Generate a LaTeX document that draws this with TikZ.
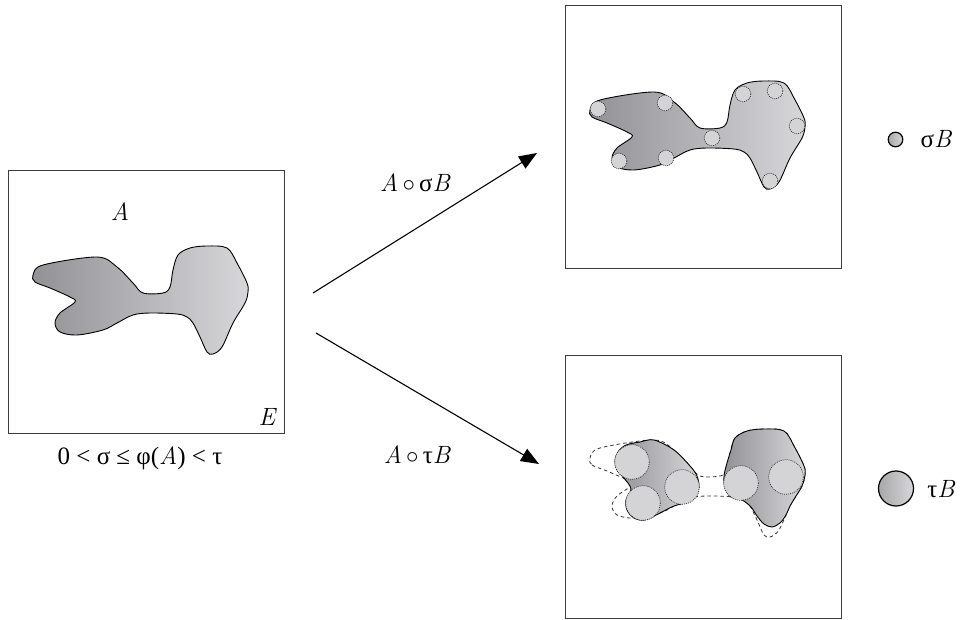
\documentclass[tikz,border=0pt]{standalone}
\usepackage{fontspec}
\setmainfont{Liberation Serif}
\newfontfamily\lmr{Latin Modern Roman}
\newcommand\vA{{\lmr\itshape A}}
\newcommand\vB{{\lmr\itshape B}}
\newcommand\vE{{\lmr\itshape E}}
\usetikzlibrary{arrows.meta}
\definecolor{gdark}{RGB}{146,146,150}
\definecolor{glight}{RGB}{215,215,218}
\definecolor{discfill}{RGB}{212,212,214}
\definecolor{framecol}{RGB}{60,60,60}
\newcommand\shapeApath{plot[smooth cycle,tension=0.55] coordinates {(33,275) (35,282) (50,288) (70,297) (75,302) (60,313) (55,323) (60,332) (77,335) (103,330) (117,323) (133,315) (150,313) (177,314) (187,317) (193,323) (200,337) (207,352) (213,354) (222,347) (233,323) (245,303) (248,292) (247,283) (237,263) (227,248) (207,246) (190,248) (178,255) (173,270) (170,287) (163,293) (143,293) (133,283) (117,267) (97,257) (43,265)}}
\begin{document}
\begin{tikzpicture}[x=1pt,y=-1pt,
  framebox/.style={draw=framecol,line width=0.8pt},
  blob/.style={left color=gdark,right color=glight,shading=axis,draw=black,line width=0.9pt},
  dashedblob/.style={draw=black!80,line width=0.8pt,dash pattern=on 3.5pt off 3pt},
  smalldisc/.style={fill=discfill,draw=black!85,line width=0.7pt,dash pattern=on 0.9pt off 1.1pt},
  legdisc/.style={left color=gdark!80,right color=glight,shading=axis,draw=black,line width=1.2pt},
  lbl/.style={font=\fontsize{25}{29}\selectfont,inner sep=0pt},
  arr/.style={line width=1.1pt,-{Triangle[length=18pt,width=14pt]}}]
\useasboundingbox (0,0) rectangle (963,620);
% frames
\draw[framebox] (8,170) rectangle (284,433);
\draw[framebox] (565,5) rectangle (841,268);
\draw[framebox] (565,355) rectangle (841,618);
% original set A
\path[blob] \shapeApath;
\node[lbl] (labA) at (120,212) {\vA};
\node[lbl] (labE) at (267,417) {\vE};
\node[lbl] (cap) at (140,458) {0 < σ ≤ φ(\vA) < τ};
% opening by sigma B
\begin{scope}[shift={(557,-165)}]
\path[blob] \shapeApath;
\end{scope}
\foreach \p in {(598,109),(665,103),(743,94),(775,91),(797,126),(712,138),(770,181),(666,158),(619,161)}
  \draw[smalldisc] \p circle[radius=7.8];
% opening by tau B
\begin{scope}[shift={(557,183)}]
\draw[dashedblob] \shapeApath;
\end{scope}
\path[blob] plot[smooth cycle,tension=0.55] coordinates {(626,445) (640,442) (654,440) (674,450) (690,466) (697,476) (699,487) (696,496) (688,502) (674,506) (660,513) (645,520) (634,518) (627,510) (626,500) (631,489) (624,478) (617,470) (615,461) (618,452)};
\path[blob] plot[smooth cycle,tension=0.55] coordinates {(735,438) (747,431) (764,429) (784,431) (794,446) (804,466) (805,475) (802,486) (796,496) (790,506) (786,515) (780,523) (772,527) (764,524) (757,516) (751,507) (742,500) (731,497) (725,488) (724,476) (727,463) (731,450)};
\foreach \p in {(632,462),(643,503),(682,487),(741,483),(786,477)}
  \draw[smalldisc] \p circle[radius=17.3];
% arrows
\coordinate (s1) at (313,293);
\coordinate (t1) at (537,153);
\coordinate (s2) at (316,333);
\coordinate (t2) at (539,464);
\draw[arr] (s1) -- (t1);
\draw[arr] (s2) -- (t2);
\node[lbl] (lab1) at (415,183) {\vA\,$\circ$\,σ\vB};
\node[lbl] (lab2) at (417,455) {\vA\,$\circ$\,τ\vB};
% legend
\path[legdisc] (895.5,139.5) circle[radius=7.3];
\node[lbl] (legs) at (936,139) {σ\vB};
\path[legdisc] (896,488.5) circle[radius=17.5];
\node[lbl] (legt) at (941,489) {τ\vB};
\end{tikzpicture}
\end{document}
